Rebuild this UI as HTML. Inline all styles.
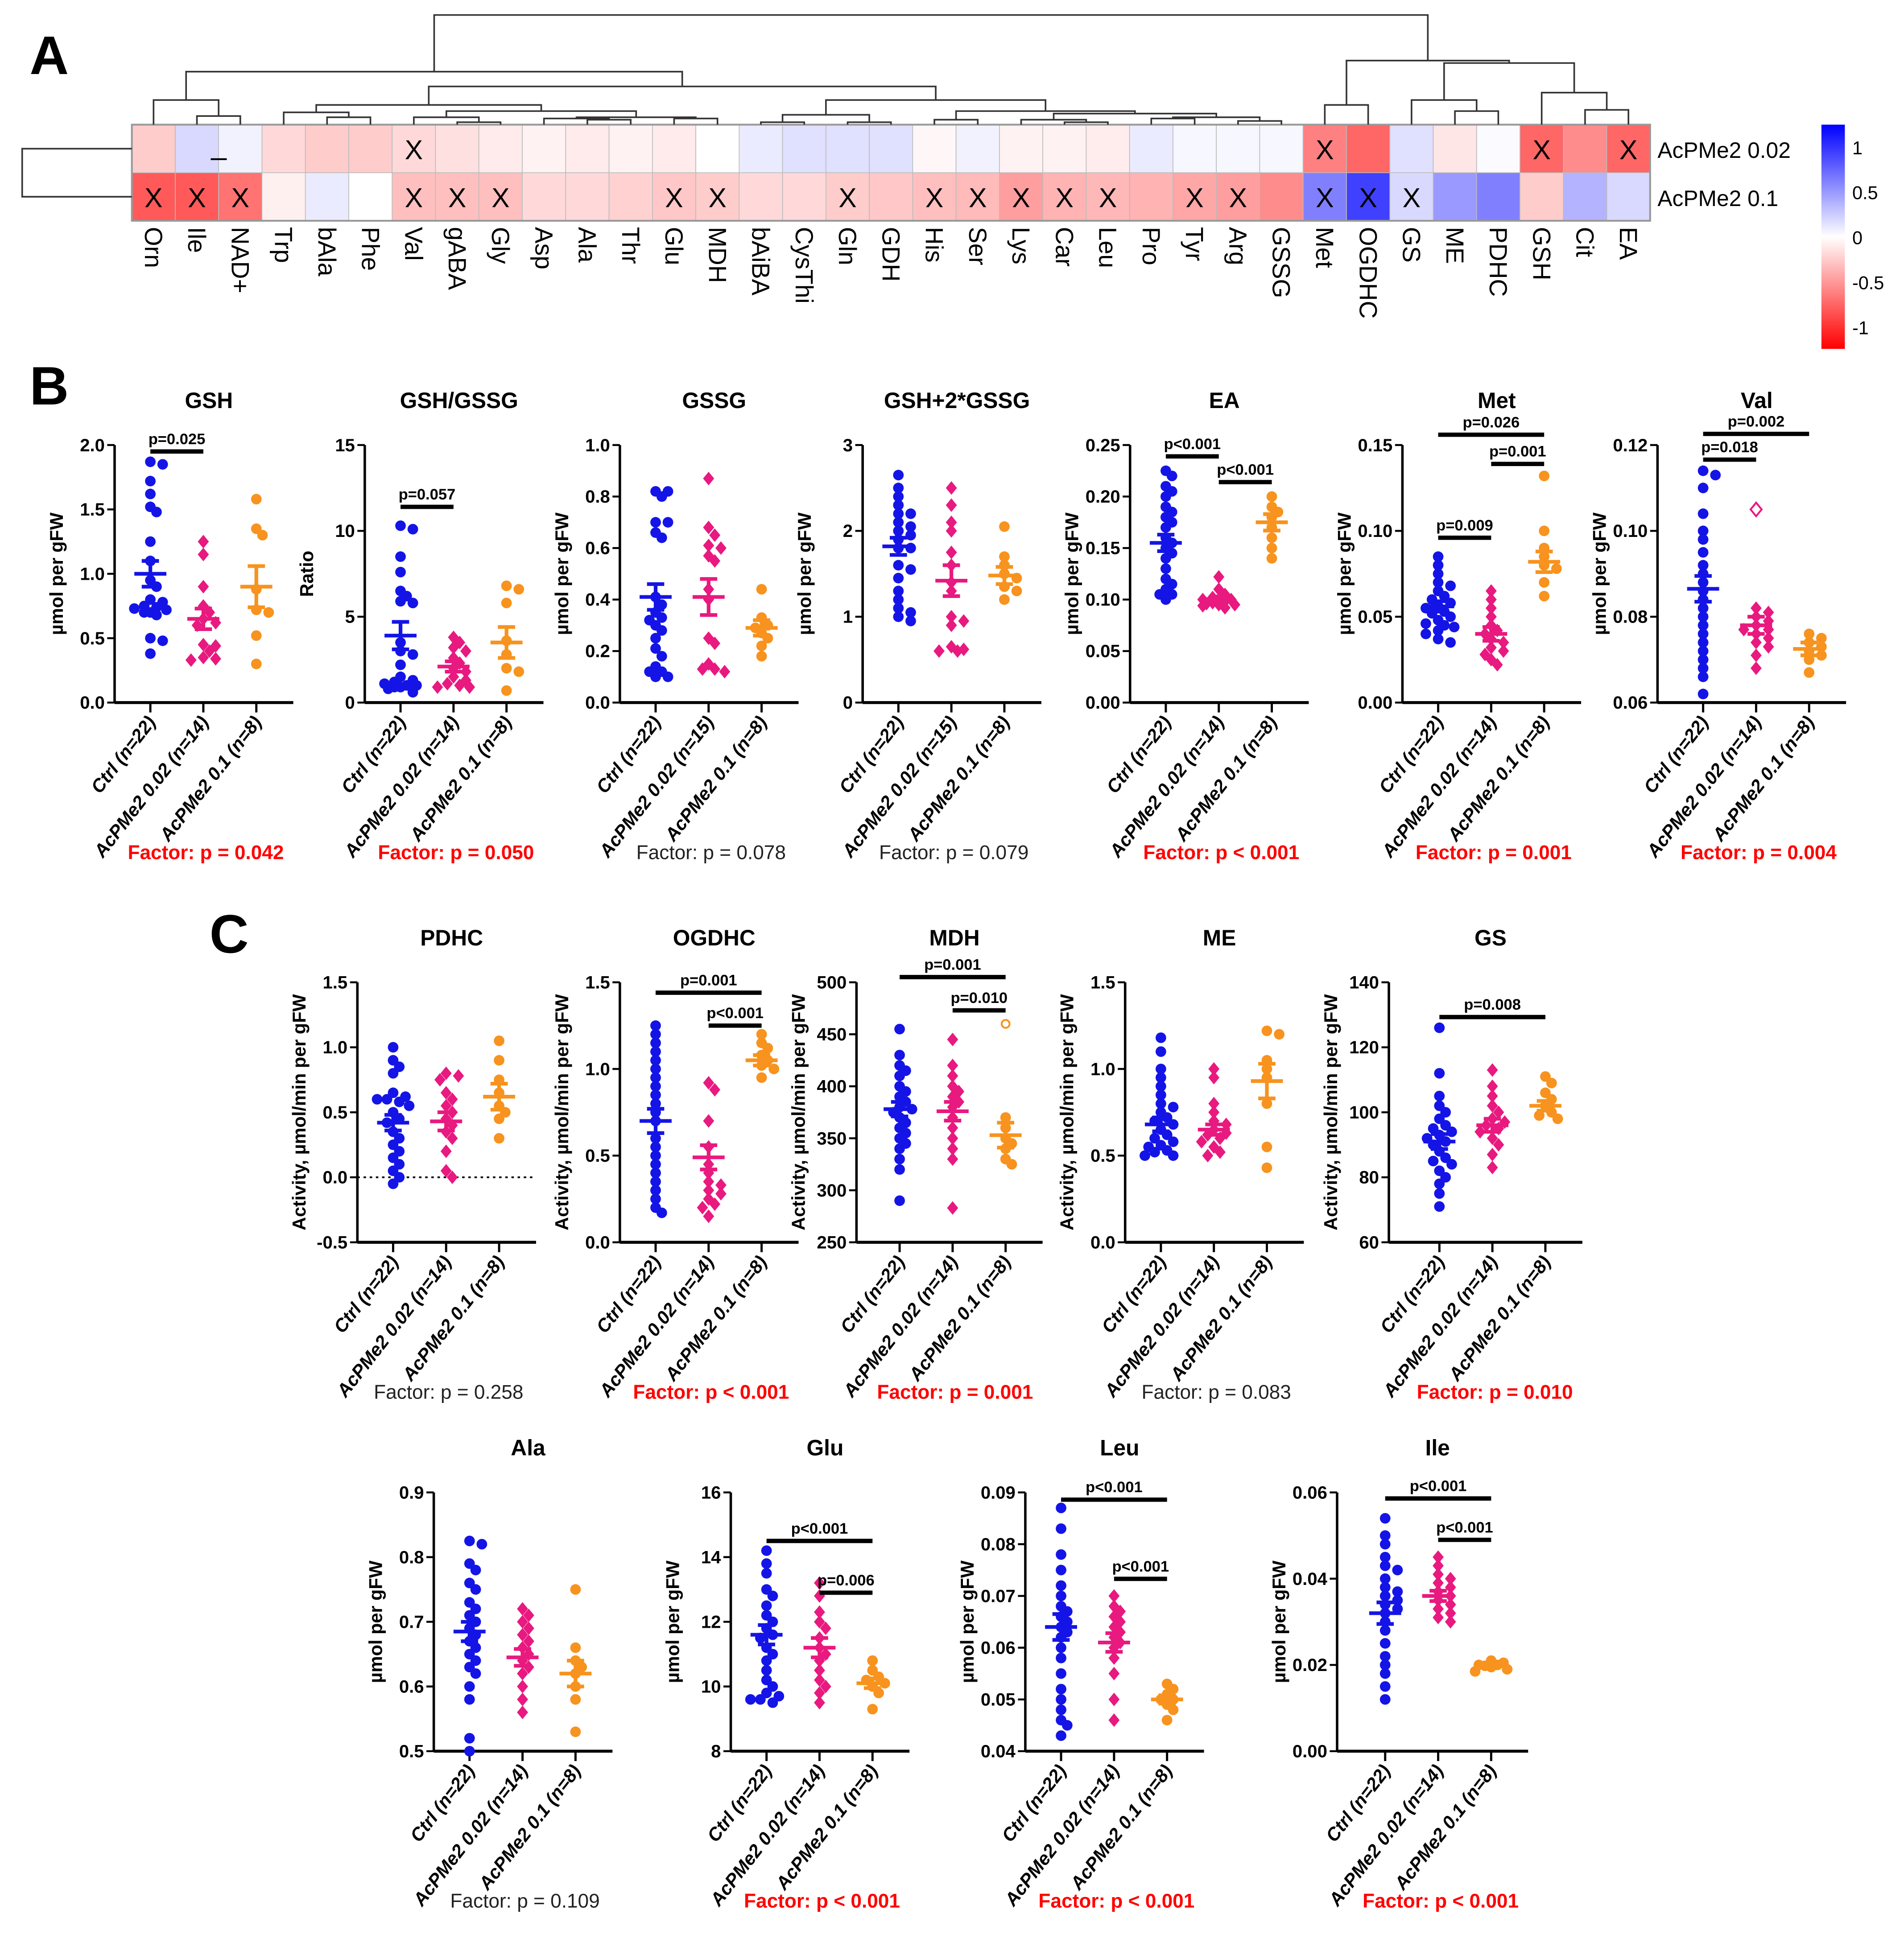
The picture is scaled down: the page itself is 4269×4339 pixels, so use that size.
<!DOCTYPE html>
<html><head><meta charset="utf-8"><style>
html,body{margin:0;padding:0;background:#fff;}
svg{display:block;}
text{font-family:"Liberation Sans",sans-serif;}
</style></head><body>
<svg id="fig" xmlns="http://www.w3.org/2000/svg" width="4269" height="4339" viewBox="0 0 1545 1570">
<rect width="1545" height="1570" fill="#fff"/>
<text x="24" y="60" font-size="44" font-weight="bold">A</text>
<text x="24" y="328" font-size="44" font-weight="bold">B</text>
<text x="170" y="773" font-size="44" font-weight="bold">C</text>
<g id="heat"></g>
<g id="plots"></g>
</svg>
<script>
const NS="http://www.w3.org/2000/svg";
// ---------- Heatmap data ----------
const metabolites=["Orn","Ile","NAD+","Trp","bAla","Phe","Val","gABA","Gly","Asp","Ala","Thr","Glu","MDH","bAiBA","CysThi","Gln","GDH","His","Ser","Lys","Car","Leu","Pro","Tyr","Arg","GSSG","Met","OGDHC","GS","ME","PDHC","GSH","Cit","EA"];
const heatRows=["AcPMe2 0.02","AcPMe2 0.1"];
const heatLow=[-0.2,0.15,0.05,-0.15,-0.2,-0.2,-0.15,-0.12,-0.08,-0.05,-0.08,-0.05,-0.08,0,0.08,0.12,0.12,0.12,-0.03,0.05,-0.05,-0.05,-0.07,0.08,0.03,0.03,0.03,-0.5,-0.6,0.12,-0.1,0.02,-0.6,-0.45,-0.6];
const heatHigh=[-0.65,-0.65,-0.55,-0.06,0.08,0,-0.25,-0.25,-0.25,-0.15,-0.15,-0.18,-0.22,-0.2,-0.15,-0.15,-0.2,-0.22,-0.25,-0.27,-0.38,-0.3,-0.28,-0.3,-0.35,-0.38,-0.45,0.5,0.75,0.15,0.4,0.5,-0.2,0.3,0.15];
const sigLow=[0,0,0,0,0,0,1,0,0,0,0,0,0,0,0,0,0,0,0,0,0,0,0,0,0,0,0,1,0,0,0,0,1,0,1];
const sigHigh=[1,1,1,0,0,0,1,1,1,0,0,0,1,1,0,0,1,0,1,1,1,1,1,0,1,1,0,1,1,1,0,0,0,0,0];
const cbarTicks=[1,0.5,0,-0.5,-1];

// ---------- Scatter data ----------
const groups=["Ctrl (n=22)","AcPMe2 0.02 (n=14)","AcPMe2 0.1 (n=8)"];
const groupsGS=["Ctrl (n=22)","AcPMe2 0.02 (n=15)","AcPMe2 0.1 (n=8)"];
const GSH_ctrl=[1.87,1.85,1.72,1.62,1.52,1.48,1.25,1.1,0.95,0.9,0.8,0.78,0.75,0.74,0.73,0.72,0.7,0.7,0.68,0.5,0.48,0.38];
const GSH_low=[1.25,1.15,0.9,0.75,0.7,0.65,0.62,0.6,0.45,0.44,0.4,0.35,0.34,0.33];
const GSH_high=[1.58,1.35,1.3,0.88,0.72,0.7,0.52,0.3];
const GSH_mean=[1.0,0.65,0.9], GSH_sem=[0.1,0.08,0.16];
const RAT_ctrl=[10.3,10.1,8.5,7.6,6.5,6.2,5.9,5.8,3.5,3.0,2.8,2.2,1.5,1.3,1.2,1.1,1.0,1.0,0.9,0.9,0.8,0.6];
const RAT_low=[3.8,3.5,3.2,3.0,2.6,2.3,2.0,1.8,1.5,1.3,1.1,1.0,0.9,0.9];
const RAT_high=[6.8,6.6,5.8,3.6,2.8,2.0,1.8,0.7];
const RAT_mean=[3.9,2.1,3.5], RAT_sem=[0.8,0.3,0.9];
const GSSG_ctrl=[0.82,0.82,0.8,0.7,0.7,0.66,0.64,0.41,0.38,0.35,0.33,0.32,0.3,0.28,0.25,0.21,0.18,0.14,0.12,0.1,0.1,0.12];
const GSSG_low=[0.87,0.68,0.65,0.61,0.6,0.57,0.55,0.44,0.4,0.25,0.23,0.15,0.13,0.13,0.12];
const GSSG_high=[0.44,0.33,0.3,0.29,0.27,0.25,0.22,0.18];
const GSSG_mean=[0.41,0.41,0.29], GSSG_sem=[0.05,0.07,0.03];
const TOT_ctrl=[2.65,2.5,2.4,2.3,2.2,2.2,2.1,2.05,2.0,1.95,1.9,1.8,1.8,1.6,1.55,1.45,1.3,1.2,1.1,1.05,1.0,0.95];
const TOT_low=[2.5,2.3,2.1,2.0,1.75,1.6,1.4,1.3,1.0,0.95,0.9,0.65,0.62,0.6,0.6];
const TOT_high=[2.05,1.7,1.6,1.5,1.45,1.35,1.3,1.2];
const TOT_mean=[1.82,1.42,1.48], TOT_sem=[0.1,0.18,0.1];
const EA_ctrl=[0.225,0.22,0.21,0.205,0.2,0.19,0.185,0.18,0.175,0.17,0.16,0.155,0.15,0.145,0.14,0.13,0.12,0.115,0.11,0.105,0.105,0.1];
const EA_low=[0.122,0.11,0.105,0.102,0.1,0.1,0.1,0.098,0.097,0.096,0.095,0.095,0.094,0.092];
const EA_high=[0.2,0.19,0.185,0.18,0.17,0.16,0.15,0.14];
const EA_mean=[0.155,0.1,0.175], EA_sem=[0.008,0.003,0.008];
const MET_ctrl=[0.085,0.08,0.075,0.07,0.068,0.065,0.062,0.06,0.058,0.056,0.055,0.053,0.052,0.05,0.048,0.046,0.045,0.044,0.042,0.04,0.037,0.035];
const MET_low=[0.065,0.06,0.055,0.05,0.045,0.042,0.04,0.037,0.035,0.032,0.03,0.028,0.025,0.022];
const MET_high=[0.132,0.1,0.09,0.085,0.08,0.078,0.07,0.062];
const MET_mean=[0.056,0.04,0.082], MET_sem=[0.003,0.004,0.006];
const VAL_ctrl=[0.114,0.113,0.11,0.104,0.1,0.098,0.095,0.092,0.09,0.088,0.086,0.084,0.082,0.08,0.078,0.076,0.074,0.072,0.07,0.068,0.066,0.062];
const VAL_low=[0.105,0.082,0.081,0.08,0.079,0.078,0.077,0.077,0.076,0.075,0.074,0.073,0.071,0.068];
const VAL_high=[0.076,0.075,0.074,0.073,0.072,0.071,0.07,0.067];
const VAL_mean=[0.0865,0.078,0.0725], VAL_sem=[0.003,0.002,0.0015];
const PDHC_ctrl=[1.0,0.9,0.85,0.8,0.65,0.62,0.6,0.6,0.58,0.55,0.5,0.45,0.42,0.35,0.3,0.25,0.2,0.15,0.1,0.05,0,-0.05];
const PDHC_low=[0.8,0.78,0.75,0.65,0.6,0.55,0.5,0.45,0.4,0.35,0.3,0.2,0.05,0];
const PDHC_high=[1.05,0.9,0.75,0.65,0.55,0.5,0.45,0.3];
const PDHC_mean=[0.42,0.43,0.62], PDHC_sem=[0.06,0.07,0.1];
const OGD_ctrl=[1.25,1.2,1.15,1.1,1.05,1.0,0.95,0.9,0.85,0.8,0.75,0.7,0.6,0.55,0.5,0.45,0.4,0.35,0.3,0.25,0.2,0.17];
const OGD_low=[0.92,0.88,0.7,0.55,0.45,0.4,0.35,0.33,0.3,0.28,0.25,0.22,0.2,0.15];
const OGD_high=[1.2,1.15,1.12,1.08,1.05,1.02,1.0,0.95];
const OGD_mean=[0.7,0.49,1.05], OGD_sem=[0.07,0.07,0.03];
const MDH_ctrl=[455,430,420,415,410,400,395,390,385,380,378,375,370,365,360,355,350,345,340,330,320,290];
const MDH_low=[445,420,410,400,395,390,385,380,370,360,350,340,330,283];
const MDH_high=[460,370,360,350,345,340,330,325];
const MDH_mean=[378,376,353], MDH_sem=[7,9,12];
const ME_ctrl=[1.18,1.1,1.0,0.95,0.9,0.85,0.8,0.78,0.75,0.72,0.7,0.68,0.65,0.62,0.6,0.58,0.56,0.55,0.53,0.52,0.5,0.5];
const ME_low=[1.0,0.95,0.8,0.75,0.7,0.68,0.65,0.63,0.62,0.6,0.58,0.55,0.52,0.5];
const ME_high=[1.22,1.2,1.05,1.0,0.95,0.8,0.55,0.43];
const ME_mean=[0.68,0.65,0.93], ME_sem=[0.04,0.03,0.1];
const GS_ctrl=[126,112,105,102,100,98,96,95,94,93,92,91,90,88,86,85,84,82,80,78,75,71];
const GS_low=[113,108,105,102,100,98,97,96,95,94,92,90,87,83];
const GS_high=[111,109,106,104,102,100,99,98];
const GS_mean=[91,96,102], GS_sem=[2.3,2,1.5];
const ALA_ctrl=[0.825,0.82,0.79,0.78,0.76,0.75,0.73,0.72,0.71,0.7,0.69,0.68,0.67,0.66,0.65,0.64,0.63,0.62,0.6,0.58,0.52,0.5];
const ALA_low=[0.72,0.71,0.7,0.69,0.68,0.67,0.66,0.65,0.64,0.63,0.62,0.6,0.58,0.56];
const ALA_high=[0.75,0.66,0.64,0.63,0.62,0.6,0.58,0.53];
const ALA_mean=[0.685,0.645,0.62], ALA_sem=[0.015,0.013,0.02];
const GLU_ctrl=[14.2,13.8,13.5,13.0,12.8,12.5,12.2,12.0,11.8,11.6,11.5,11.2,11.0,10.8,10.5,10.2,10.0,9.8,9.7,9.6,9.6,9.5];
const GLU_low=[13.2,12.8,12.3,12.0,11.8,11.5,11.2,11.0,10.8,10.5,10.2,10.0,9.8,9.5];
const GLU_high=[10.8,10.5,10.3,10.2,10.1,10.0,9.8,9.3];
const GLU_mean=[11.6,11.2,10.1], GLU_sem=[0.3,0.3,0.15];
const LEU_ctrl=[0.087,0.083,0.078,0.075,0.072,0.07,0.068,0.067,0.066,0.065,0.064,0.063,0.062,0.06,0.058,0.055,0.052,0.05,0.048,0.046,0.045,0.043];
const LEU_low=[0.07,0.068,0.067,0.066,0.065,0.064,0.063,0.062,0.061,0.06,0.058,0.055,0.05,0.046];
const LEU_high=[0.053,0.052,0.051,0.05,0.05,0.049,0.048,0.046];
const LEU_mean=[0.064,0.061,0.05], LEU_sem=[0.0025,0.0018,0.0008];
const ILE_ctrl=[0.054,0.05,0.048,0.045,0.043,0.042,0.04,0.038,0.037,0.036,0.035,0.034,0.033,0.032,0.03,0.028,0.025,0.022,0.02,0.018,0.015,0.012];
const ILE_low=[0.045,0.043,0.041,0.04,0.039,0.038,0.037,0.036,0.035,0.034,0.033,0.032,0.031,0.03];
const ILE_high=[0.021,0.0205,0.02,0.02,0.0198,0.0195,0.019,0.0185];
const ILE_mean=[0.032,0.036,0.02], ILE_sem=[0.0025,0.0012,0.0003];

// ---------- Heatmap drawing ----------
function el(tag,attrs,parent,txt){const e=document.createElementNS(NS,tag);for(const k in attrs)e.setAttribute(k,attrs[k]);if(txt!==undefined)e.textContent=txt;parent.appendChild(e);return e;}
function col(v){const t=Math.min(1,Math.abs(v));const c=Math.round(255*(1-t));return v>=0?`rgb(${c},${c},255)`:`rgb(255,${c},${c})`;}
const heat=document.getElementById('heat');
const HX=107,CW=35.2,HY=101,RH=39;
[heatLow,heatHigh].forEach((row,r)=>{
  row.forEach((v,i)=>{
    const c=el('rect',{x:HX+i*CW,y:HY+r*RH,width:CW,height:RH,fill:col(v),stroke:'#bbb','stroke-width':0.6},heat);
    
    
    const s=(r?sigHigh:sigLow)[i];
    if(s){const t=el('text',{x:HX+i*CW+CW/2,y:HY+r*RH+28,'font-size':22,'text-anchor':'middle'},heat,'X');
      }
  });
});
el('rect',{x:HX,y:HY,width:CW*35,height:RH*2,fill:'none',stroke:'#999','stroke-width':1.5},heat);
metabolites.forEach((m,i)=>{
  const x=HX+i*CW+CW/2-7;
  const t=el('text',{x:x,y:184,'font-size':20,transform:`rotate(90 ${x} 184)`},heat,m);
  
});
heatRows.forEach((r,i)=>{const t=el('text',{x:1345,y:HY+i*RH+27,'font-size':18},heat,r);
  });
el('line',{x1:171,y1:129,x2:184,y2:129,stroke:'#000','stroke-width':1.5},heat);
const tree=[[0,[1,2,94],81],[[[3,[4,5,95],91],[[6,[7,8,99],95],[[9,[10,11,97],96],[12,13,96],95],90],85],[[[14,15,99],[16,17,99],93],[[18,19,97],[[20,[21,22,99],97],[[23,24,96],[25,26,98],95],92],90],81],70],58];
const rtree=[[27,28,85],[[29,[30,31,90],81],[32,[33,34,89],75],51],49];
const root=[tree,rtree,12];
function dd(n){ if(typeof n==='number') return {x:HX+n*CW+CW/2,y:HY};
  const a=dd(n[0]),b=dd(n[1]),h=n[2];
  el('path',{d:`M${a.x},${a.y}V${h}H${b.x}V${b.y}`,fill:'none',stroke:'#333','stroke-width':1.3},heat);
  return {x:(a.x+b.x)/2,y:h};}
dd(root);
el('path',{d:`M107,120.5H18V159.5H107`,fill:'none',stroke:'#333','stroke-width':1.3},heat);
const defs=el('defs',{},heat);
const lg=el('linearGradient',{id:'cb',x1:0,y1:0,x2:0,y2:1},defs);
el('stop',{offset:'0',  'stop-color':'#0000ff'},lg);
el('stop',{offset:'0.5','stop-color':'#ffffff'},lg);
el('stop',{offset:'1',  'stop-color':'#ff0000'},lg);
const cbr=el('rect',{x:1478,y:101,width:19,height:182,fill:'url(#cb)'},heat);

cbarTicks.forEach(v=>{const y=192-v*73;const t=el('text',{x:1503,y:y+6,'font-size':15},heat,String(v));
  });

// ---------- Scatter panels ----------
const COLORS=['#1414e6','#e8197f','#f7931e'];
const panels=[
 {t:'GSH',ax:93,top:361,bot:570,min:0,max:2,ticks:['0.0','0.5','1.0','1.5','2.0'],d:[GSH_ctrl,GSH_low,GSH_high],m:GSH_mean,s:GSH_sem,yl:'µmol per gFW',f:'Factor: p = 0.042',red:1,g:groups,sig:[[0,1,1.95,'p=0.025']]},
 {t:'GSH/GSSG',ax:296,top:361,bot:570,min:0,max:15,ticks:['0','5','10','15'],d:[RAT_ctrl,RAT_low,RAT_high],m:RAT_mean,s:RAT_sem,yl:'Ratio',f:'Factor: p = 0.050',red:1,g:groups,sig:[[0,1,11.4,'p=0.057']]},
 {t:'GSSG',ax:503,top:361,bot:570,min:0,max:1,ticks:['0.0','0.2','0.4','0.6','0.8','1.0'],d:[GSSG_ctrl,GSSG_low,GSSG_high],m:GSSG_mean,s:GSSG_sem,yl:'µmol per gFW',f:'Factor: p = 0.078',red:0,g:groupsGS,sig:[]},
 {t:'GSH+2*GSSG',ax:700,top:361,bot:570,min:0,max:3,ticks:['0','1','2','3'],d:[TOT_ctrl,TOT_low,TOT_high],m:TOT_mean,s:TOT_sem,yl:'µmol per gFW',f:'Factor: p = 0.079',red:0,g:groupsGS,sig:[]},
 {t:'EA',ax:917,top:361,bot:570,min:0,max:0.25,ticks:['0.00','0.05','0.10','0.15','0.20','0.25'],d:[EA_ctrl,EA_low,EA_high],m:EA_mean,s:EA_sem,yl:'µmol per gFW',f:'Factor: p < 0.001',red:1,g:groups,sig:[[0,1,0.239,'p<0.001'],[1,2,0.214,'p<0.001']]},
 {t:'Met',ax:1138,top:361,bot:570,min:0,max:0.15,ticks:['0.00','0.05','0.10','0.15'],d:[MET_ctrl,MET_low,MET_high],m:MET_mean,s:MET_sem,yl:'µmol per gFW',f:'Factor: p = 0.001',red:1,g:groups,sig:[[0,1,0.096,'p=0.009'],[1,2,0.139,'p=0.001'],[0,2,0.156,'p=0.026']]},
 {t:'Val',ax:1345,top:361,bot:570,min:0.06,max:0.12,ticks:['0.06','0.08','0.10','0.12'],d:[VAL_ctrl,VAL_low,VAL_high],m:VAL_mean,s:VAL_sem,yl:'µmol per gFW',f:'Factor: p = 0.004',red:1,g:groups,sig:[[0,1,0.1166,'p=0.018'],[0,2,0.1226,'p=0.002']],open:[1,0],off:8},
 {t:'PDHC',ax:290,top:797,bot:1008,min:-0.5,max:1.5,ticks:['-0.5','0.0','0.5','1.0','1.5'],d:[PDHC_ctrl,PDHC_low,PDHC_high],m:PDHC_mean,s:PDHC_sem,yl:'Activity, µmol/min per gFW',f:'Factor: p = 0.258',red:0,g:groups,sig:[],zero:1},
 {t:'OGDHC',ax:503,top:797,bot:1008,min:0,max:1.5,ticks:['0.0','0.5','1.0','1.5'],d:[OGD_ctrl,OGD_low,OGD_high],m:OGD_mean,s:OGD_sem,yl:'Activity, µmol/min per gFW',f:'Factor: p < 0.001',red:1,g:groups,sig:[[0,2,1.44,'p=0.001'],[1,2,1.25,'p<0.001']]},
 {t:'MDH',ax:695,top:797,bot:1008,min:250,max:500,ticks:['250','300','350','400','450','500'],d:[MDH_ctrl,MDH_low,MDH_high],m:MDH_mean,s:MDH_sem,yl:'Activity, µmol/min per gFW',f:'Factor: p = 0.001',red:1,g:groups,sig:[[0,2,505,'p=0.001'],[1,2,473,'p=0.010']],open:[2,0],off:6},
 {t:'ME',ax:913,top:797,bot:1008,min:0,max:1.5,ticks:['0.0','0.5','1.0','1.5'],d:[ME_ctrl,ME_low,ME_high],m:ME_mean,s:ME_sem,yl:'Activity, µmol/min per gFW',f:'Factor: p = 0.083',red:0,g:groups,sig:[]},
 {t:'GS',ax:1127,top:797,bot:1008,min:60,max:140,ticks:['60','80','100','120','140'],d:[GS_ctrl,GS_low,GS_high],m:GS_mean,s:GS_sem,yl:'Activity, µmol/min per gFW',f:'Factor: p = 0.010',red:1,g:groups,sig:[[0,2,129.3,'p=0.008']],off:12},
 {t:'Ala',ax:352,top:1211,bot:1421,min:0.5,max:0.9,ticks:['0.5','0.6','0.7','0.8','0.9'],d:[ALA_ctrl,ALA_low,ALA_high],m:ALA_mean,s:ALA_sem,yl:'µmol per gFW',f:'Factor: p = 0.109',red:0,g:groups,sig:[]},
 {t:'Glu',ax:593,top:1211,bot:1421,min:8,max:16,ticks:['8','10','12','14','16'],d:[GLU_ctrl,GLU_low,GLU_high],m:GLU_mean,s:GLU_sem,yl:'µmol per gFW',f:'Factor: p < 0.001',red:1,g:groups,sig:[[0,2,14.5,'p<0.001'],[1,2,12.9,'p=0.006']]},
 {t:'Leu',ax:832,top:1211,bot:1421,min:0.04,max:0.09,ticks:['0.04','0.05','0.06','0.07','0.08','0.09'],d:[LEU_ctrl,LEU_low,LEU_high],m:LEU_mean,s:LEU_sem,yl:'µmol per gFW',f:'Factor: p < 0.001',red:1,g:groups,sig:[[0,2,0.0886,'p<0.001'],[1,2,0.0733,'p<0.001']]},
 {t:'Ile',ax:1085,top:1211,bot:1421,min:0,max:0.06,ticks:['0.00','0.02','0.04','0.06'],d:[ILE_ctrl,ILE_low,ILE_high],m:ILE_mean,s:ILE_sem,yl:'µmol per gFW',f:'Factor: p < 0.001',red:1,g:groups,sig:[[0,2,0.0586,'p<0.001'],[1,2,0.049,'p<0.001']],off:10}
];
const plots=document.getElementById('plots');
panels.forEach(p=>{
  const g=el('g',{},plots);
  
  
  const off=p.off||0;
  const gx=[p.ax+29+off,p.ax+72+off,p.ax+115+off];
  const y=v=>p.bot-(v-p.min)/(p.max-p.min)*(p.bot-p.top);
  const right=gx[2]+30;
  el('line',{x1:p.ax,y1:p.top,x2:p.ax,y2:p.bot,stroke:'#000','stroke-width':2},g);
  el('line',{x1:p.ax,y1:p.bot,x2:right,y2:p.bot,stroke:'#000','stroke-width':2.4},g);
  p.ticks.forEach(tk=>{const yy=y(parseFloat(tk));
    el('line',{x1:p.ax-6,y1:yy,x2:p.ax,y2:yy,stroke:'#000','stroke-width':1.6},g);
    const t=el('text',{x:p.ax-8,y:yy+5,'font-size':14.5,'font-weight':'bold','text-anchor':'end'},g,tk);
    });
  if(p.zero){el('line',{x1:p.ax,y1:y(0),x2:right,y2:y(0),stroke:'#000','stroke-width':1.4,'stroke-dasharray':'2,3'},g);}
  const tt=el('text',{x:(p.ax+right)/2+4,y:p.top-30,'font-size':18,'font-weight':'bold','text-anchor':'middle'},g,p.t);
  
  const ylx=p.ax-42, yly=(p.top+p.bot)/2;
  const yt=el('text',{x:ylx,y:yly,'font-size':15,'font-weight':'bold','text-anchor':'middle',transform:`rotate(-90 ${ylx} ${yly})`},g,p.yl);
  
  gx.forEach((x,i)=>{
    el('line',{x1:x,y1:p.bot,x2:x,y2:p.bot+8,stroke:'#000','stroke-width':1.8},g);
    const lx=x+5, ly=p.bot+16;
    const t=el('text',{x:lx,y:ly,'font-size':15,'font-weight':'bold','font-style':'italic','text-anchor':'end',transform:`rotate(-52 ${lx} ${ly})`},g,p.g[i]);
    
    const placed=[];
    p.d[i].forEach((v,j)=>{
      const yy=y(v);let dx=0,best=-1;
      const cands=[0,5,-5,10,-10,13,-13];
      for(const c of cands){const dmin=Math.min(99,...placed.map(q=>Math.hypot(q[0]-c,q[1]-yy)));
        if(dmin>6.5){dx=c;best=dmin;break;} if(dmin>best){best=dmin;dx=c;}}
      placed.push([dx,yy]);
      const cx=x+dx;
      const open=p.open&&p.open[0]===i&&p.open[1]===j;
      let m;
      if(i===1){m=el('path',{d:`M${cx},${yy-5.5}L${cx+4.5},${yy}L${cx},${yy+5.5}L${cx-4.5},${yy}Z`,fill:open?'#fff':COLORS[i],stroke:COLORS[i],'stroke-width':open?1.5:0},g);}
      else{m=el('circle',{cx:cx,cy:yy,r:open?3.2:4.3,fill:open?'#fff':COLORS[i],stroke:COLORS[i],'stroke-width':open?1.5:0},g);}
      
    });
    const my=y(p.m[i]),hi=y(p.m[i]+p.s[i]),lo=y(p.m[i]-p.s[i]);
    const mb=el('path',{d:`M${x-13},${my}H${x+13}M${x},${hi}V${lo}M${x-7},${hi}H${x+7}M${x-7},${lo}H${x+7}`,stroke:COLORS[i],'stroke-width':3,fill:'none'},g);
    
  });
  p.sig.forEach(s=>{
    const yy=y(s[2]);
    const b=el('line',{x1:gx[s[0]],y1:yy,x2:gx[s[1]],y2:yy,stroke:'#000','stroke-width':3.5},g);
    
    const t=el('text',{x:(gx[s[0]]+gx[s[1]])/2,y:yy-6,'font-size':12.5,'font-weight':'bold','text-anchor':'middle'},g,s[3]);
    
  });
  const ft=el('text',{x:gx[1]+2,y:p.bot+127,'font-size':16,'font-weight':p.red?'bold':'normal',fill:p.red?'#ff0000':'#222','text-anchor':'middle'},g,p.f);
  
});
</script>
</body></html>
